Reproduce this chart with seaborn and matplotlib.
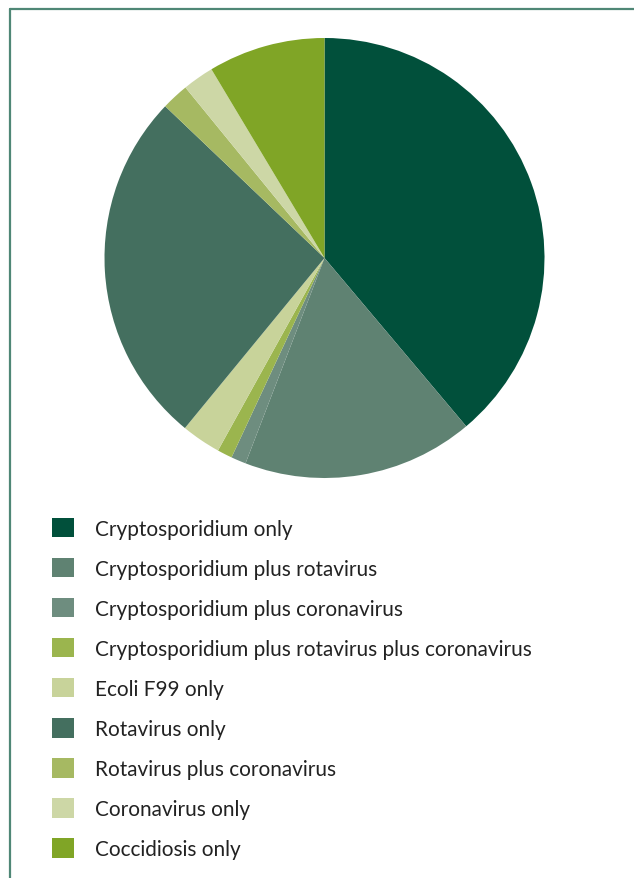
import matplotlib
matplotlib.use("Agg")
import matplotlib.pyplot as plt
import seaborn as sns
from matplotlib.lines import Line2D

# Data
labels = [
    "Cryptosporidium only",
    "Cryptosporidium plus rotavirus",
    "Cryptosporidium plus coronavirus",
    "Cryptosporidium plus rotavirus plus coronavirus",
    "Ecoli F99 only",
    "Rotavirus only",
    "Rotavirus plus coronavirus",
    "Coronavirus only",
    "Coccidiosis only",
]
shares = [38.9, 17.0, 1.1, 1.1, 2.9, 26.2, 2.0, 2.3, 8.6]
colors = ["#01503b", "#5f8272", "#6e8d7f", "#9bb54e", "#c8d39a",
          "#446f5f", "#a6b962", "#cdd7a6", "#80a526"]

sns.set_style("white")
plt.rcParams['font.family'] = ['Lato', 'DejaVu Sans']

fig = plt.figure(figsize=(6.34, 8.79), dpi=100)
ax = fig.add_axes([104.5 / 634, 1 - 479 / 879, 440 / 634, 440 / 879])

wedges, _ = ax.pie(shares, colors=colors, startangle=90, counterclock=False,
                   radius=1, wedgeprops=dict(linewidth=0))
ax.set_xlim(-1, 1)
ax.set_ylim(-1, 1)
ax.set_aspect("equal")
ax.axis("off")

# Legend
fs = 14.95
fig.legend(wedges, labels, loc="upper left",
           bbox_to_anchor=(52 / 634, 1 - 519 / 879),
           frameon=False, fontsize=fs, labelcolor="#222222",
           handlelength=1.06, handleheight=1.06,
           handletextpad=1.0, labelspacing=0.927, borderpad=0, borderaxespad=0)

# Border frame (top and left)
frame_color = "#4f8776"
fig.add_artist(Line2D([10 / 634, 1], [1 - 10 / 879, 1 - 10 / 879],
                      color=frame_color, linewidth=1.6, transform=fig.transFigure))
fig.add_artist(Line2D([10 / 634, 10 / 634], [0, 1 - 10 / 879],
                      color=frame_color, linewidth=1.6, transform=fig.transFigure))

fig.savefig("out.png", dpi=100)
